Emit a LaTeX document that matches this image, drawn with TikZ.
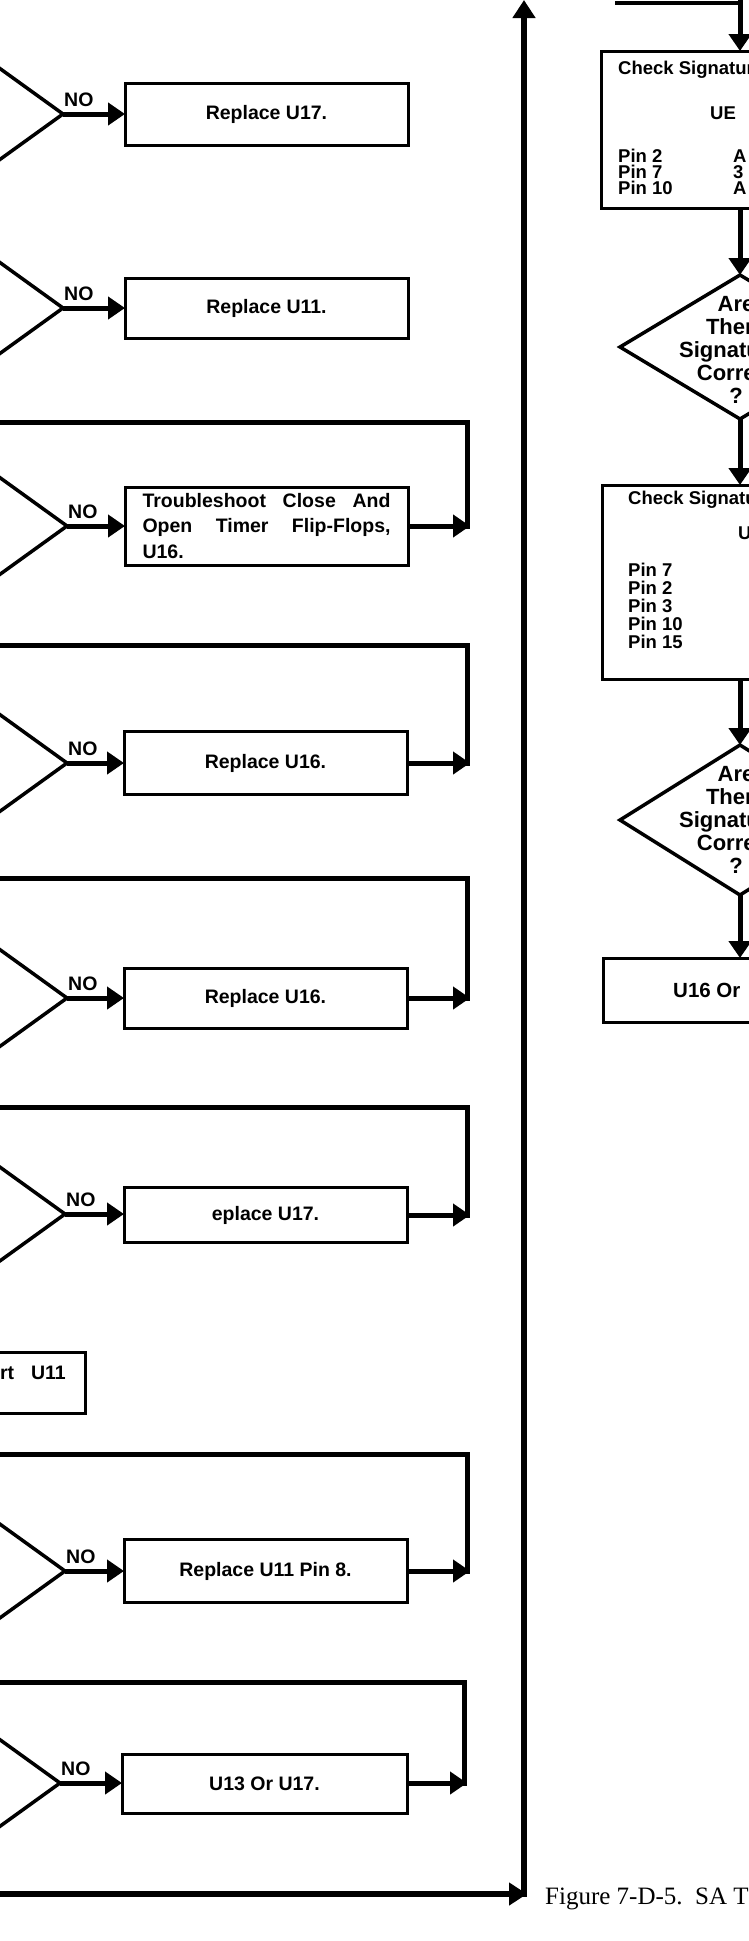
\documentclass[tikz,border=0pt]{standalone}
\usepackage{fontspec}
\setmainfont{Liberation Sans}
\newfontfamily\capfont{Liberation Serif}
\usetikzlibrary{arrows.meta,shapes.geometric,calc}
\tikzset{
  box/.style={draw, line width=3pt, rectangle, inner sep=0pt, outer sep=0pt, minimum width=283pt, font=\fontsize{19.5}{25.5}\selectfont\bfseries, anchor=west},
  rbox/.style={draw, line width=3pt, rectangle, inner sep=0pt, outer sep=0pt, minimum width=300pt, anchor=north west},
  dia/.style={draw, line width=3.5pt, diamond, inner sep=0pt, outer sep=0pt, minimum width=240pt, minimum height=173pt},
  rdia/.style={draw, line width=3.5pt, diamond, inner sep=0pt, outer sep=0pt, minimum width=240pt},
  arr/.style={line width=5pt, -{Triangle[length=17pt,width=22pt]}},
  fb/.style={line width=5pt, line join=miter},
  big/.style={line width=6pt},
  lbl/.style={font=\fontsize{19.5}{20}\selectfont\bfseries, inner sep=0pt, anchor=base west},
  rtxt/.style={font=\fontsize{18.5}{23}\selectfont\bfseries, inner sep=0pt, anchor=west},
  dtxt/.style={font=\fontsize{22}{23}\selectfont\bfseries, inner sep=0pt, align=center},
}
\begin{document}
\begin{tikzpicture}[x=1pt,y=-1pt]
\useasboundingbox (0,0) rectangle (749,1941);
\fill[white] (0,0) rectangle (749,1941);
\clip (0,0) rectangle (749,1941);

% ---------- left column ----------
% row 1
\node[dia] (d1) at (-57,114) {};
\node[box, minimum height=62pt] (b1) at (125,114) {Replace U17.};
\draw[arr] (d1.east) -- (b1.west);
\node[lbl] (n1) at (64,106) {NO};

% row 2
\node[dia] (d2) at (-57,308) {};
\node[box, minimum height=60pt] (b2) at (125,308) {Replace U11.};
\draw[arr] (d2.east) -- (b2.west);
\node[lbl] (n2) at (64,300) {NO};

% row 3
\node[dia] (d3) at (-53,526) {};
\node[box, minimum height=78pt, text width=248pt, align=justify] (b3) at (125,526) {Troubleshoot Close And\linebreak Open Timer Flip-Flops,\linebreak U16.};
\draw[arr] (d3.east) -- (b3.west);
\node[lbl] (n3) at (68,518) {NO};
\coordinate (c3) at (470,526);
\coordinate (k3) at (467,529);
\coordinate (t3) at (467,422);
\coordinate (l3) at (-10,422);
\draw[arr] (b3.east) -- (c3);
\draw[fb] (k3) -- (t3) -- (l3);

% row 4
\node[dia] (d4) at (-53,763) {};
\node[box, minimum height=63pt] (b4) at (124,763) {Replace U16.};
\draw[arr] (d4.east) -- (b4.west);
\node[lbl] (n4) at (68,755) {NO};
\coordinate (c4) at (470,763);
\coordinate (k4) at (467,766);
\coordinate (t4) at (467,645);
\coordinate (l4) at (-10,645);
\draw[arr] (b4.east) -- (c4);
\draw[fb] (k4) -- (t4) -- (l4);

% row 5
\node[dia] (d5) at (-53,998) {};
\node[box, minimum height=60pt] (b5) at (124,998) {Replace U16.};
\draw[arr] (d5.east) -- (b5.west);
\node[lbl] (n5) at (68,990) {NO};
\coordinate (c5) at (470,998);
\coordinate (k5) at (467,1001);
\coordinate (t5) at (467,878);
\coordinate (l5) at (-10,878);
\draw[arr] (b5.east) -- (c5);
\draw[fb] (k5) -- (t5) -- (l5);

% row 6
\node[dia] (d6) at (-55,1214) {};
\node[box, minimum height=55pt] (b6) at (124,1215) {eplace U17.};
\draw[arr] (d6.east) -- (b6.west |- d6.east);
\node[lbl] (n6) at (66,1206) {NO};
\coordinate (c6) at (470,1215);
\coordinate (k6) at (467,1218);
\coordinate (t6) at (467,1107);
\coordinate (l6) at (-10,1107);
\draw[arr] (b6.east) -- (c6);
\draw[fb] (k6) -- (t6) -- (l6);

% row 7 (box only)
\node[draw, line width=3pt, inner sep=0pt, outer sep=0pt, minimum width=250pt, minimum height=61pt, anchor=north east] (b7) at (85,1352) {};
\node[font=\fontsize{19.5}{20}\selectfont\bfseries, inner sep=0pt, anchor=east] (t7) at (66,1373) {rt\hspace{17pt}U11};

% row 8
\node[dia] (d8) at (-55,1571) {};
\node[box, minimum height=63pt] (b8) at (124,1571) {Replace U11 Pin 8.};
\draw[arr] (d8.east) -- (b8.west);
\node[lbl] (n8) at (66,1563) {NO};
\coordinate (c8) at (470,1571);
\coordinate (k8) at (467,1574);
\coordinate (t8) at (467,1454);
\coordinate (l8) at (-10,1454);
\draw[arr] (b8.east) -- (c8);
\draw[fb] (k8) -- (t8) -- (l8);

% row 9
\node[dia] (d9) at (-60,1783) {};
\node[box, minimum height=59pt, minimum width=285pt] (b9) at (122,1784) {U13 Or U17.};
\draw[arr] (d9.east) -- (b9.west |- d9.east);
\node[lbl] (n9) at (61,1775) {NO};
\coordinate (c9) at (467,1783);
\coordinate (k9) at (464,1786);
\coordinate (t9) at (464,1682);
\coordinate (l9) at (-10,1682);
\draw[arr] (b9.east |- c9) -- (c9);
\draw[fb] (k9) -- (t9) -- (l9);

% ---------- bottom return line and big vertical ----------
\coordinate (bs) at (-10,1894);
\coordinate (bc) at (527,1894);
\coordinate (bv) at (524,1897);
\coordinate (bt) at (524,0);
\draw[big, -{Triangle[length=18pt,width=22pt]}] (bs) -- (bc);
\draw[big, -{Triangle[length=18pt,width=22pt]}] (bv) -- (bt);

% caption
\node[font=\capfont\fontsize{25}{25}\selectfont, inner sep=0pt, anchor=base west] (cap) at (545,1904) {Figure 7-D-5.\ \ SA T};

% ---------- right column ----------
\coordinate (rt0) at (615,3);
\coordinate (rt1) at (742,3);
\draw[line width=4pt] (rt0) -- (rt1);
\coordinate (rtop) at (740,0);
\node[rbox, minimum height=157pt] (rb1) at (601,51) {};
\draw[arr] (rtop) -- (rtop |- rb1.north);
\node[rtxt] (rb1a) at (618,70) {Check Signatures};
\node[rtxt] (rb1b) at (710,113) {UE};
\node[rtxt] (rb1c) at (618,156) {Pin 2};
\node[rtxt] (rb1d) at (618,172) {Pin 7};
\node[rtxt] (rb1e) at (618,188) {Pin 10};
\node[rtxt] (rb1f) at (733,156) {A};
\node[rtxt] (rb1g) at (733,172) {3};
\node[rtxt] (rb1h) at (733,188) {A};

\node[rdia, minimum height=144pt] (rd1) at (740,347) {};
\draw[arr] (rd1.north |- rb1.south) -- (rd1.north);
\node[dtxt] (rd1t) at (736,350) {Are\\There\\Signatures\\Correct\\?};

\node[rbox, minimum height=194pt] (rb2) at (602,485) {};
\draw[arr] (rd1.south) -- (rd1.south |- rb2.north);
\node[rtxt] (rb2a) at (628,500) {Check Signatures};
\node[rtxt] (rb2b) at (738,533) {U};
\node[rtxt] (rb2c) at (628,570) {Pin 7};
\node[rtxt] (rb2d) at (628,588) {Pin 2};
\node[rtxt] (rb2e) at (628,606) {Pin 3};
\node[rtxt] (rb2f) at (628,624) {Pin 10};
\node[rtxt] (rb2g) at (628,642) {Pin 15};

\node[rdia, minimum height=150pt] (rd2) at (740,820) {};
\draw[arr] (rd2.north |- rb2.south) -- (rd2.north);
\node[dtxt] (rd2t) at (736,820) {Are\\There\\Signatures\\Correct\\?};

\node[rbox, minimum height=64pt] (rb3) at (603,958) {};
\draw[arr] (rd2.south) -- (rd2.south |- rb3.north);
\node[font=\fontsize{20.5}{22}\selectfont\bfseries, inner sep=0pt, anchor=west] (rb3a) at (673,990) {U16 Or};
\end{tikzpicture}
\end{document}
